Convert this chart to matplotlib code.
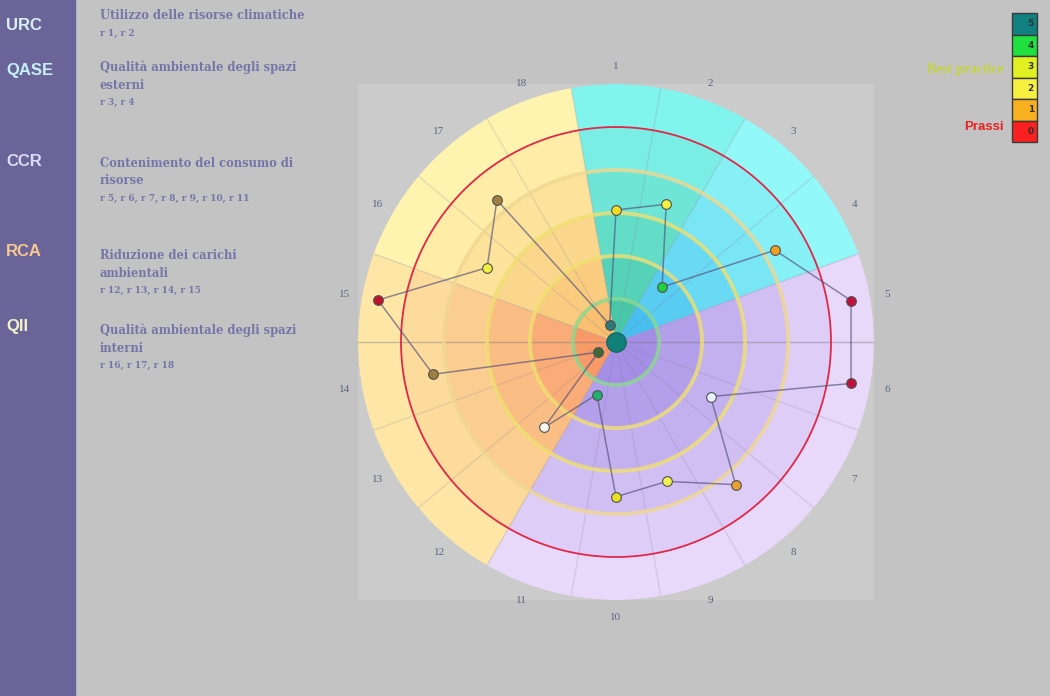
import numpy as np
import matplotlib
matplotlib.use('Agg')
from matplotlib import pyplot as plt
from matplotlib.patches import Rectangle

# criteria 1..18, score on the -1 (outside) .. 5 (centre) scale
criteria = list(range(1, 19))
scores = [1.93, 1.59, 3.33, 0.73, -0.55, -0.55, 2.46, 0.67, 1.55,
          1.40, 3.70, 2.41, 4.52, 0.68, -0.62, 1.54, 0.69, 4.57]
point_colors = ['#f0dc20', '#f2f040', '#20d040', '#f0a020', '#c01040', '#c01040',
                '#e8f0ff', '#e8a030', '#f0f050', '#e8e020', '#20b070', '#f8f8f0',
                '#3f6a38', '#a08040', '#c01030', '#f0f040', '#a08040', '#307878']

# groups of criteria
groups = ['URC', 'QASE', 'CCR', 'RCA', 'QII']
group_first = [1, 3, 5, 12, 16]
group_last = [2, 4, 11, 15, 18]
group_titles = ['Utilizzo delle risorse climatiche',
                'Qualità ambientale degli spazi\nesterni',
                'Contenimento del consumo di\nrisorse',
                'Riduzione dei carichi\nambientali',
                'Qualità ambientale degli spazi\ninterni']
group_refs = ['r 1, r 2', 'r 3, r 4', 'r 5, r 6, r 7, r 8, r 9, r 10, r 11',
              'r 12, r 13, r 14, r 15', 'r 16, r 17, r 18']
group_label_colors = ['#d8f0f0', '#c4f0f8', '#dcdcf8', '#f8c890', '#f0f0c8']
# band colours, outer ring -> centre
group_outer = ['#82f4ee', '#92f8f8', '#e8d8fa', '#fde6a6', '#fff3b0']
group_center = ['#48c8a8', '#48bff0', '#a48ee6', '#f89a68', '#f8c070']

# legend scale
levels = [5, 4, 3, 2, 1, 0]
level_colors = ['#108080', '#20e040', '#e0f020', '#f8f040', '#f8b020', '#f82020']

W, H = 1050, 696


def px(x, y):
    return x / W, 1 - y / H


def mix(c1, c2, t):
    a = np.array(matplotlib.colors.to_rgb(c1))
    b = np.array(matplotlib.colors.to_rgb(c2))
    return tuple(a + (b - a) * t)


fig = plt.figure(figsize=(W / 100, H / 100), dpi=100)
fig.patch.set_facecolor('#c3c3c3')

# left bar
fig.add_artist(Rectangle((0, 0), 75 / W, 1, transform=fig.transFigure,
                         color='#6a6498', zorder=0))

label_y = [25, 70, 162, 252, 327]
title_y = [16, 68, 164, 256, 331]
for i in range(len(groups)):
    fig.text(*px(6, label_y[i]), groups[i], color=group_label_colors[i],
             fontsize=12, fontweight='bold', family='Liberation Sans', va='center')
    nlines = group_titles[i].count('\n') + 1
    fig.text(*px(100, title_y[i] - 7), group_titles[i], color='#7674a8', fontsize=8.3,
             fontweight='bold', family='DejaVu Serif', va='top', linespacing=1.45)
    fig.text(*px(100, title_y[i] + 17 * nlines), group_refs[i], color='#7674a8',
             fontsize=6.5, fontweight='bold', family='DejaVu Serif', va='center')

# legend boxes top right
box_h = 21.5
for k, lv in enumerate(levels):
    y0 = 13 + k * box_h
    fig.add_artist(Rectangle(px(1012, y0 + box_h), 25 / W, box_h / H,
                             transform=fig.transFigure, facecolor=level_colors[k],
                             edgecolor='#3a3a3a', lw=1))
    fig.text(*px(1034, y0 + box_h / 2), str(lv), color='#303030', fontsize=6.5,
             fontweight='bold', ha='right', va='center')
fig.text(*px(1004, 69), 'Best practice', color='#c4d43c', fontsize=10,
         fontweight='bold', ha='right', va='center', family='Liberation Serif')
fig.text(*px(1004, 127), 'Prassi', color='#e82020', fontsize=9.5,
         fontweight='bold', ha='right', va='center', family='Liberation Sans')

# chart area
rect = [358 / W, 1 - 600 / H, 516 / W, 516 / H]
bg = fig.add_axes(rect)
bg.set_facecolor('#cbcbcb')
bg.set_xticks([])
bg.set_yticks([])
for s in bg.spines.values():
    s.set_visible(False)

ax = fig.add_axes(rect, projection='polar')
ax.set_facecolor('none')
ax.set_theta_zero_location('N')
ax.set_theta_direction(-1)
ax.set_ylim(0, 6)
ax.grid(False)
ax.spines['polar'].set_visible(False)
ax.set_xticks([])
ax.set_yticks([])

step = np.deg2rad(20)
for g in range(len(groups)):
    a0 = (group_first[g] - 1) * step - step / 2
    a1 = (group_last[g] - 1) * step + step / 2
    for band in range(6):
        col = mix(group_outer[g], group_center[g], (band / 5) ** 1.2)
        ax.bar((a0 + a1) / 2, 1, width=a1 - a0, bottom=5 - band,
               color=col, edgecolor='none', zorder=1)

# sector boundaries
for i in range(18):
    a = i * step + step / 2
    ax.plot([a, a], [0, 6], color='#808090', alpha=0.2, lw=1, zorder=2)
ax.plot([np.pi / 2, np.pi / 2, 3 * np.pi / 2], [6, 0, 6], color='#707070',
        alpha=0.25, lw=1, zorder=2)

# reference rings
circle = np.linspace(0, 2 * np.pi, 400)
ax.plot(circle, np.full_like(circle, 1), color='#8ad890', lw=2.8, alpha=0.8, zorder=3)
for r, c in [(2, '#f0e070'), (3, '#f0e070'), (4, '#f0d890')]:
    ax.plot(circle, np.full_like(circle, r), color=c, lw=2.8, alpha=0.8, zorder=3)
ax.plot(circle, np.full_like(circle, 5), color='#e02848', lw=1.3, zorder=3)

# scores
theta = np.array([(c - 1) * step for c in criteria])
radius = 5 - np.array(scores)
ax.plot(np.append(theta, theta[0]), np.append(radius, radius[0]),
        color='#505078', alpha=0.65, lw=1.1, zorder=4)
for t, r, c in zip(theta, radius, point_colors):
    ax.plot(t, r, 'o', ms=7, mfc=c, mec='#505050', mew=0.8, zorder=5)
ax.plot(0, 0, 'o', ms=14, mfc='#108078', mec='#106060', mew=0.8, zorder=6)

# criterion numbers
for t, c in zip(theta, criteria):
    ax.text(t, 6.4, str(c), color='#5c6480', fontsize=8,
            family='Liberation Serif', ha='center', va='center', clip_on=False)

fig.savefig('out.png', dpi=100, facecolor=fig.get_facecolor())
